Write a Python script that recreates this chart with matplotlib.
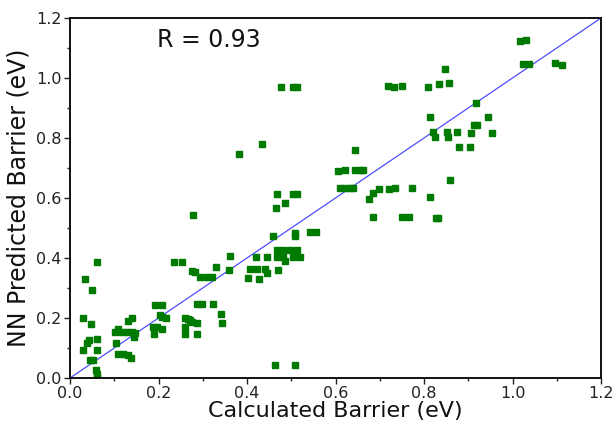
import matplotlib
matplotlib.use("Agg")
import matplotlib.pyplot as plt
from matplotlib.ticker import MultipleLocator, FormatStrFormatter

calculated = [
    0.029, 0.034, 0.060, 0.050, 0.047, 0.029, 0.039, 0.044, 0.060, 0.062,
    0.045, 0.053, 0.059, 0.062, 0.062,
    0.102, 0.109, 0.117, 0.128, 0.139, 0.147, 0.105,
    0.109, 0.120, 0.132, 0.137, 0.132, 0.139, 0.145,
    0.188, 0.196, 0.190, 0.192, 0.209, 0.203, 0.207, 0.218, 0.207,
    0.234, 0.252, 0.275, 0.282, 0.294, 0.309, 0.320, 0.331, 0.362, 0.360,
    0.286, 0.298, 0.324, 0.341, 0.344,
    0.260, 0.267, 0.275, 0.286, 0.260, 0.271, 0.260, 0.286,
    0.279, 0.383, 0.435,
    0.467, 0.505, 0.512, 0.486, 0.466, 0.458, 0.508, 0.508, 0.542, 0.557,
    0.467, 0.482, 0.497, 0.512, 0.467, 0.482, 0.505, 0.520, 0.486,
    0.420, 0.446, 0.407, 0.422, 0.441, 0.446, 0.471, 0.403, 0.426,
    0.477, 0.503, 0.512, 0.463, 0.509,
    0.605, 0.621, 0.644, 0.655, 0.663, 0.610, 0.621, 0.633, 0.640, 0.644,
    0.676, 0.685, 0.699, 0.722, 0.734, 0.772, 0.814, 0.859,
    0.685, 0.750, 0.765, 0.827, 0.832,
    0.719, 0.733, 0.751, 0.808, 0.835, 0.857, 0.847,
    0.917, 0.814, 0.945,
    0.821, 0.825, 0.851, 0.855, 0.874, 0.906, 0.912, 0.919, 0.953,
    0.879, 0.904,
    1.018, 1.030, 1.024, 1.038, 1.096, 1.111,
]
predicted = [
    0.200, 0.330, 0.386, 0.293, 0.180, 0.093, 0.118, 0.127, 0.129, 0.093,
    0.060, 0.060, 0.027, 0.013, 0.005,
    0.154, 0.162, 0.154, 0.154, 0.154, 0.149, 0.116,
    0.080, 0.080, 0.077, 0.066, 0.191, 0.199, 0.136,
    0.171, 0.171, 0.146, 0.243, 0.243, 0.210, 0.204, 0.199, 0.163,
    0.388, 0.386, 0.358, 0.354, 0.338, 0.338, 0.338, 0.369, 0.407, 0.360,
    0.247, 0.247, 0.247, 0.212, 0.182,
    0.199, 0.196, 0.188, 0.184, 0.171, 0.193, 0.146, 0.146,
    0.543, 0.746, 0.779,
    0.613, 0.613, 0.613, 0.582, 0.566, 0.473, 0.484, 0.473, 0.486, 0.486,
    0.427, 0.427, 0.427, 0.427, 0.404, 0.404, 0.404, 0.404, 0.390,
    0.404, 0.404, 0.362, 0.362, 0.362, 0.349, 0.360, 0.334, 0.329,
    0.971, 0.971, 0.971, 0.043, 0.043,
    0.690, 0.693, 0.693, 0.693, 0.693, 0.632, 0.632, 0.632, 0.632, 0.760,
    0.596, 0.618, 0.631, 0.631, 0.633, 0.632, 0.604, 0.660,
    0.536, 0.536, 0.536, 0.533, 0.533,
    0.974, 0.971, 0.974, 0.969, 0.980, 0.982, 1.030,
    0.918, 0.869, 0.869,
    0.821, 0.804, 0.821, 0.802, 0.821, 0.818, 0.842, 0.842, 0.818,
    0.769, 0.769,
    1.124, 1.126, 1.047, 1.047, 1.049, 1.043,
]
axis_limits = [0.0, 1.2]
r_text = "R = 0.93"
x_label = "Calculated Barrier (eV)"
y_label = "NN Predicted Barrier (eV)"

fig = plt.figure(figsize=(6.16, 4.24), dpi=100)
ax = fig.add_axes([70/616, 1 - 378/424, 531/616, 360/424])

ax.plot(axis_limits, axis_limits, color="#3a3aff", lw=0.9, alpha=0.9, zorder=1)
ax.plot(calculated, predicted, linestyle="none", marker="s", ms=4.8,
        color="#007a00", mec="#007a00", zorder=2)

ax.set_xlim(axis_limits)
ax.set_ylim(axis_limits)
ax.xaxis.set_major_locator(MultipleLocator(0.2))
ax.yaxis.set_major_locator(MultipleLocator(0.2))
ax.xaxis.set_minor_locator(MultipleLocator(0.1))
ax.yaxis.set_minor_locator(MultipleLocator(0.1))
ax.xaxis.set_major_formatter(FormatStrFormatter("%.1f"))
ax.yaxis.set_major_formatter(FormatStrFormatter("%.1f"))
ax.tick_params(which="both", direction="out", top=False, right=False,
               labelsize=11.5, colors="#222222", width=1.0)
ax.tick_params(which="major", length=4.5, pad=1.5)
ax.tick_params(which="minor", length=2.5)
for s in ax.spines.values():
    s.set_linewidth(1.4)
    s.set_color("#111111")

ax.set_xlabel(x_label, fontsize=16, labelpad=0, color="#111111")
ax.set_ylabel(y_label, fontsize=17, labelpad=4, color="#111111")
ax.text(0.197, 1.127, r_text, fontsize=17, va="center", ha="left", color="#111111")

fig.savefig("out.png", dpi=100)
